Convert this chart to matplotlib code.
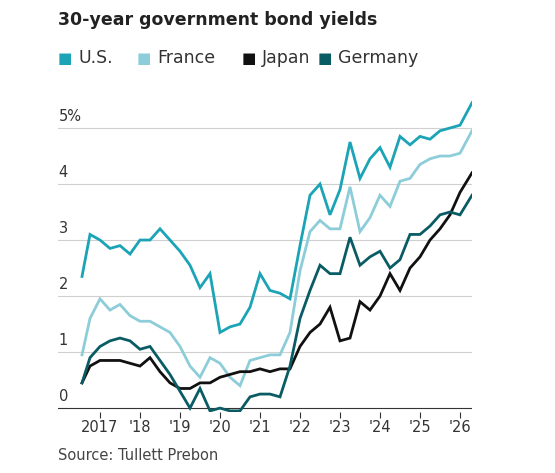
import numpy as np
import matplotlib.pyplot as plt

# decimal-year positions of the readings
years = [2016.55, 2016.75, 2017.0, 2017.25, 2017.5, 2017.75, 2018.0, 2018.25, 2018.5, 2018.75,
         2019.0, 2019.25, 2019.5, 2019.75, 2020.0, 2020.25, 2020.5, 2020.75, 2021.0, 2021.25,
         2021.5, 2021.75, 2022.0, 2022.25, 2022.5, 2022.75, 2023.0, 2023.25, 2023.5, 2023.75,
         2024.0, 2024.25, 2024.5, 2024.75, 2025.0, 2025.25, 2025.5, 2025.75, 2026.0, 2026.3]

us = [2.35, 3.1, 3.0, 2.85, 2.9, 2.75, 3.0, 3.0, 3.2, 3.0, 2.8, 2.55, 2.15, 2.4, 1.35, 1.45,
      1.5, 1.8, 2.4, 2.1, 2.05, 1.95, 2.9, 3.8, 4.0, 3.45, 3.9, 4.75, 4.1, 4.45, 4.65, 4.3,
      4.85, 4.7, 4.85, 4.8, 4.95, 5.0, 5.05, 5.45]
france = [0.95, 1.6, 1.95, 1.75, 1.85, 1.65, 1.55, 1.55, 1.45, 1.35, 1.1, 0.75, 0.55, 0.9,
          0.8, 0.55, 0.4, 0.85, 0.9, 0.95, 0.95, 1.35, 2.45, 3.15, 3.35, 3.2, 3.2, 3.95, 3.15,
          3.4, 3.8, 3.6, 4.05, 4.1, 4.35, 4.45, 4.5, 4.5, 4.55, 4.95]
japan = [0.45, 0.75, 0.85, 0.85, 0.85, 0.8, 0.75, 0.9, 0.65, 0.45, 0.35, 0.35, 0.45, 0.45,
         0.55, 0.6, 0.65, 0.65, 0.7, 0.65, 0.7, 0.7, 1.1, 1.35, 1.5, 1.8, 1.2, 1.25, 1.9,
         1.75, 2.0, 2.4, 2.1, 2.5, 2.7, 3.0, 3.2, 3.45, 3.85, 4.2]
germany = [0.45, 0.9, 1.1, 1.2, 1.25, 1.2, 1.05, 1.1, 0.85, 0.6, 0.3, 0.0, 0.35, -0.05,
           0.0, -0.05, -0.05, 0.2, 0.25, 0.25, 0.2, 0.75, 1.6, 2.1, 2.55, 2.4, 2.4, 3.05,
           2.55, 2.7, 2.8, 2.5, 2.65, 3.1, 3.1, 3.25, 3.45, 3.5, 3.45, 3.8]

series = [("U.S.", us, "#1ba3b6"), ("France", france, "#8dcdd9"),
          ("Japan", japan, "#111111"), ("Germany", germany, "#0a5c64")]

tick_years = list(range(2017, 2027))
tick_labels = ["2017", "'18", "'19", "'20", "'21", "'22", "'23", "'24", "'25", "'26"]
y_ticks = [0, 1, 2, 3, 4, 5]
y_labels = ["0", "1", "2", "3", "4", "5%"]

fig = plt.figure(figsize=(5.55, 4.73), dpi=100)
ax = fig.add_axes([58 / 555, 1 - 412 / 473, (472 - 58) / 555, (412 - 100) / 473])

for name, vals, color in series:
    ax.plot(years, vals, color=color, lw=2.0, solid_joinstyle="miter")

ax.set_xlim(2015.95, 2026.3)
ax.set_ylim(-0.07, 5.5)
for v in y_ticks:
    ax.axhline(v, color="#d0d0d0" if v else "#333333", lw=0.8, zorder=0)
ax.set_yticks([])
for v, lab in zip(y_ticks, y_labels):
    ax.text(2015.97, v + 0.08, lab, fontsize=10.5, color="#333333", va="bottom", ha="left")

ax.set_xticks(tick_years)
ax.set_xticklabels(tick_labels, fontsize=10.5, color="#333333")
ax.tick_params(axis="x", length=4, color="#333333", pad=2)
for s in ax.spines.values():
    s.set_visible(False)

fig.text(58 / 555, 1 - 20 / 473, "30-year government bond yields", fontsize=12.5,
         fontweight="bold", color="#222222", va="center")
lx = 58
steps = {"U.S.": 79, "France": 105, "Japan": 76, "Germany": 0}
for name, vals, color in series:
    fig.text(lx / 555, 1 - 58 / 473, "\u25a0", color=color, fontsize=11, va="center")
    fig.text((lx + 20) / 555, 1 - 58 / 473, name, color="#333333", fontsize=12.5, va="center")
    lx += steps[name]
fig.text(58 / 555, 1 - 455 / 473, "Source: Tullett Prebon", fontsize=10.5,
         color="#444444", va="center")

fig.savefig("out.png", dpi=100)
